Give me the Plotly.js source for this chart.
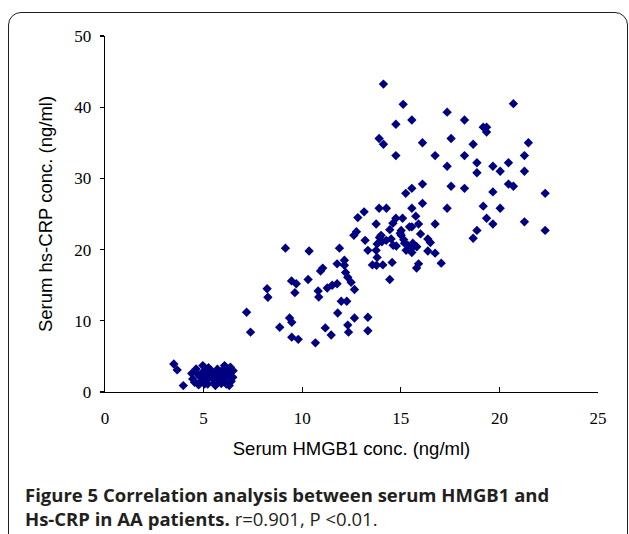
<!DOCTYPE html>
<html>
<head>
<meta charset="utf-8">
<script src="https://cdn.plot.ly/plotly-3.0.1.min.js"></script>
<style>
html,body{margin:0;padding:0;background:#fff;}
#wrap{position:relative;width:629px;height:534px;overflow:hidden;}
#frame{position:absolute;left:8px;top:12px;width:620px;height:560px;border:1.5px solid #231f20;border-radius:13px;box-sizing:border-box;pointer-events:none;}
#chart{position:absolute;left:0;top:0;width:629px;height:534px;}
</style>
</head>
<body>
<div id="wrap">
<div id="chart"></div>
<div id="frame"></div>
</div>
<script>
// Serum HMGB1 conc. (ng/ml)
const hmgb1 = [
  3.49,3.66,3.97,
  4.45,4.62,4.71,4.96,4.88,5.13,5.39,5.47,5.64,5.81,5.89,6.06,6.06,6.15,6.36,6.48,6.31,5.98,5.21,5.05,4.54,
  4.8,5.3,5.55,5.7,5.0,6.2,5.9,6.4,4.75,5.6,6.0,6.3,5.25,4.4,6.5,5.15,5.75,6.1,4.95,5.45,
  7.18,7.38,8.22,8.26,8.86,9.15,9.36,9.47,9.47,9.8,9.46,9.7,9.63,10.3,10.35,10.67,10.81,10.84,10.93,11.04,
  11.17,11.47,11.27,11.52,11.77,11.89,11.77,12.14,12.14,12.2,12.31,12.48,12.65,11.98,12.26,11.8,12.65,12.31,12.35,13.33,13.33,
  12.62,12.75,12.82,13.14,13.19,13.33,13.56,13.77,14.09,13.75,13.8,13.75,13.9,14.27,13.92,14.04,13.8,14.51,14.61,14.77,
  15.02,15.15,14.44,15.02,14.75,14.6,15.09,15.56,15.9,15.76,15.36,15.59,15.56,15.9,15.8,16.0,14.56,14.44,15.56,15.25,
  15.56,16.1,16.1,14.75,13.9,14.12,16.1,14.75,15.56,15.12,14.12,
  14.26,14.0,14.97,15.19,15.27,15.61,15.81,15.44,
  16.37,16.5,16.37,16.74,17.05,18.67,
  20.71,17.35,18.23,19.18,19.35,19.35,17.55,18.67,21.47,16.74,18.23,21.27,18.86,20.46,17.35,19.67,18.86,20.04,21.27,
  17.55,18.23,20.46,20.71,19.67,22.32,17.35,19.18,20.04,19.35,19.67,21.27,16.74,18.86,22.32
];
// Serum hs-CRP conc. (ng/ml)
const hscrp = [
  3.94,3.1,0.9,
  1.83,3.23,2.53,3.71,1.6,2.3,3.0,1.83,2.53,1.6,2.77,3.71,1.83,1.12,3.47,2.07,2.3,2.3,1.12,1.12,1.36,
  2.2,2.6,1.3,3.2,2.9,2.7,1.2,1.5,1.0,0.9,3.2,0.9,3.4,2.6,3.0,1.7,2.1,2.4,2.4,2.2,
  11.2,8.4,14.5,13.3,9.1,20.2,10.4,9.8,7.7,7.4,15.6,15.2,13.95,15.8,19.8,6.9,14.2,13.35,17.0,17.4,
  9.0,8.0,14.6,15.0,15.2,20.2,18.0,18.5,17.8,16.8,16.1,15.4,14.4,12.75,12.75,11.1,10.4,9.4,8.4,10.5,8.6,
  22.0,22.5,24.5,25.3,21.3,19.9,17.85,17.8,17.85,19.9,18.9,23.6,25.8,25.8,21.7,21.1,20.8,21.5,20.6,20.5,
  22.0,21.4,22.8,22.7,24.4,23.7,24.4,23.2,23.6,24.7,20.6,20.3,19.6,18.0,17.4,22.2,18.2,15.8,25.8,27.9,
  28.6,29.2,26.5,33.2,35.6,34.8,35.0,37.6,38.2,40.4,43.25,
  21.3,22.0,22.3,20.9,19.9,20.9,20.4,23.2,
  21.5,21.0,19.8,19.5,18.1,21.6,
  40.5,39.3,38.2,37.2,37.2,36.5,35.6,34.8,35.0,33.2,33.2,33.2,32.2,32.2,31.7,31.7,30.8,31.0,31.0,
  28.9,28.6,29.2,28.9,28.1,27.9,25.8,26.1,25.8,24.4,23.6,23.9,23.6,22.7,22.7
];
const xTickVals = [0,5,10,15,20,25];
const yTickVals = [0,10,20,30,40,50];
const xTitle = 'Serum HMGB1 conc. (ng/ml)';
const yTitle = 'Serum hs-CRP conc. (ng/ml)';
const captionBold = 'Figure 5 Correlation analysis between serum HMGB1 and';
const captionBold2 = 'Hs-CRP in AA patients.';
const captionRest = ' r=0.901, P &lt;0.01.';

const trace = {
  x: hmgb1, y: hscrp, type: 'scatter', mode: 'markers',
  marker: {symbol: 'diamond', size: 7.2, color: '#000080', line: {width: 0}},
  hoverinfo: 'x+y'
};

const L = 105, R = 31, T = 36, B = 142;
const pw = 629 - L - R, ph = 534 - T - B;
function px(x){ return (x - L) / pw; }
function py(y){ return (534 - B - y) / ph; }

const layout = {
  width: 629, height: 534,
  margin: {l: L, r: R, t: T, b: B, pad: 0},
  paper_bgcolor: 'rgba(0,0,0,0)', plot_bgcolor: '#fff',
  showlegend: false,
  xaxis: {
    range: [0, 25], tickvals: xTickVals, ticktext: xTickVals.map(String),
    showgrid: false, zeroline: false, showline: true, linecolor: '#000', linewidth: 1.3,
    ticks: 'inside', ticklen: 5, tickwidth: 1.2, tickcolor: '#000',
    ticklabelstandoff: 10,
    tickfont: {family: 'Liberation Serif', size: 17, color: '#000'},
    title: {text: xTitle, font: {family: 'Liberation Sans', size: 18.5, color: '#000'}, standoff: 15},
    fixedrange: true
  },
  yaxis: {
    range: [0, 50], tickvals: yTickVals, ticktext: yTickVals.map(String),
    showgrid: false, zeroline: false, showline: true, linecolor: '#000', linewidth: 1.3,
    ticks: 'outside', ticklen: 4, tickwidth: 1.2, tickcolor: '#000',
    ticklabelstandoff: 5,
    tickfont: {family: 'Liberation Serif', size: 17, color: '#000'},
    title: {text: yTitle, font: {family: 'Liberation Sans', size: 18.5, color: '#000'}, standoff: 16},
    fixedrange: true
  },
  annotations: [
    {xref: 'paper', yref: 'paper', x: px(23), y: py(494), xanchor: 'left', yanchor: 'middle', showarrow: false,
     text: '<b>' + captionBold + '</b>', font: {family: 'Open Sans', size: 18.5, color: '#231f20'}},
    {xref: 'paper', yref: 'paper', x: px(23), y: py(518), xanchor: 'left', yanchor: 'middle', showarrow: false,
     text: '<b>' + captionBold2 + '</b>' + captionRest, font: {family: 'Open Sans', size: 18.5, color: '#231f20'}}
  ]
};

Plotly.newPlot('chart', [trace], layout, {displayModeBar: false, staticPlot: true});
</script>
</body>
</html>
